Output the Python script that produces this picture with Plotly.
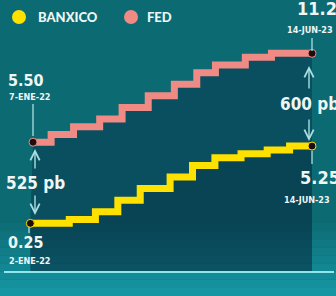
import plotly.graph_objects as go
import pandas as pd

# ---- data ----
pink_name = "FED"
pink_dates = ["2022-01-07", "2022-02-10", "2022-03-24", "2022-05-12", "2022-06-23", "2022-08-11",
              "2022-09-29", "2022-11-10", "2022-12-15", "2023-02-09", "2023-03-30", "2023-06-14"]
pink_rates = [5.50, 6.00, 6.50, 7.00, 7.75, 8.50, 9.25, 10.00, 10.50, 11.00, 11.25, 11.25]

yellow_name = "BANXICO"
yellow_dates = ["2022-01-02", "2022-03-16", "2022-05-04", "2022-06-15", "2022-07-27", "2022-09-21",
                "2022-11-02", "2022-12-14", "2023-02-01", "2023-03-22", "2023-05-03", "2023-06-14"]
yellow_rates = [0.25, 0.50, 1.00, 1.75, 2.50, 3.25, 4.00, 4.50, 4.75, 5.00, 5.25, 5.25]

start_labels = ["5.50", "7-ENE-22", "0.25", "2-ENE-22"]
end_labels = ["11.25", "14-JUN-23", "5.25", "14-JUN-23"]
gap_labels = ["525 pb", "600 pb"]

PINK = "#ef8a84"
YELLOW = "#ffe100"
WHITE = "#eef6f6"
CYAN = "#a9dfe2"
W, H = 336, 296
Y_MIN, Y_MAX = -4.45, 14.70
BASE = -2.9

def px(x):
    return x / W

def py(y):
    return 1 - y / H

fig = go.Figure()

# fills (shadows)
fig.add_trace(go.Scatter(x=pd.to_datetime(pink_dates), y=pink_rates, mode="lines",
                         line=dict(shape="hv", width=0), hoverinfo="skip", showlegend=False))
fig.add_trace(go.Scatter(x=pd.to_datetime(yellow_dates), y=yellow_rates, mode="lines",
                         line=dict(shape="hv", width=0), fill="tonexty",
                         fillcolor="rgba(6,36,62,0.38)", hoverinfo="skip", showlegend=False))
fig.add_trace(go.Scatter(x=pd.to_datetime(yellow_dates), y=[BASE] * len(yellow_dates), mode="lines",
                         line=dict(shape="hv", width=0), fill="tonexty",
                         fillcolor="rgba(4,30,52,0.5)", hoverinfo="skip", showlegend=False))

# step lines
fig.add_trace(go.Scatter(x=pd.to_datetime(pink_dates), y=pink_rates, mode="lines", name=pink_name,
                         line=dict(shape="hv", width=7, color=PINK), showlegend=False))
fig.add_trace(go.Scatter(x=pd.to_datetime(yellow_dates), y=yellow_rates, mode="lines", name=yellow_name,
                         line=dict(shape="hv", width=7, color=YELLOW), showlegend=False))

# end dots
for d, r, c in [(pink_dates, pink_rates, PINK), (yellow_dates, yellow_rates, YELLOW)]:
    fig.add_trace(go.Scatter(x=pd.to_datetime([d[0], d[-1]]), y=[r[0], r[-1]], mode="markers",
                             marker=dict(size=8, color="#1e0c10", line=dict(width=1, color=c)),
                             showlegend=False, hoverinfo="skip"))

shapes = []
# bottom gradient bands
c0 = (12, 106, 115)
c1 = (22, 150, 162)
n = 10
y_top, y_bot = 215, 296
for i in range(n):
    t = i / (n - 1)
    col = tuple(int(c0[k] + (c1[k] - c0[k]) * t) for k in range(3))
    ya = y_top + (y_bot - y_top) * i / n
    yb = y_top + (y_bot - y_top) * (i + 1) / n
    shapes.append(dict(type="rect", xref="paper", yref="paper", x0=0, x1=1, y0=py(yb), y1=py(ya),
                       fillcolor="rgb(%d,%d,%d)" % col, line=dict(width=0), layer="below"))
# bottom axis line
shapes.append(dict(type="line", xref="paper", yref="paper", x0=px(4), x1=px(334), y0=py(272), y1=py(272),
                   line=dict(color="#8fe6ec", width=2)))
# connectors
for x0, y0, x1, y1 in [(33, 104, 33, 136), (312, 38, 312, 51), (312, 151, 312, 164), (29, 227, 29, 233)]:
    shapes.append(dict(type="line", xref="paper", yref="paper", x0=px(x0), x1=px(x1), y0=py(y0), y1=py(y1),
                       line=dict(color=CYAN, width=1.3)))
# legend circles
for cx, c in [(19, YELLOW), (131, PINK)]:
    shapes.append(dict(type="circle", xref="paper", yref="paper", x0=px(cx - 7), x1=px(cx + 7),
                       y0=py(24), y1=py(10), fillcolor=c, line=dict(width=0)))

NUMF = "DejaVu Sans Condensed, Liberation Sans Narrow, Roboto, sans-serif"
LEGF = "Lato Black, Lato, Liberation Sans, sans-serif"
ann = []

def txt(x, y, s, size, xanchor="left", font=NUMF, color=WHITE):
    ann.append(dict(xref="paper", yref="paper", x=px(x), y=py(y), text="<b>%s</b>" % s,
                    showarrow=False, xanchor=xanchor, yanchor="middle",
                    font=dict(family=font, size=size, color=color)))

# legend texts
txt(36, 17, yellow_name, 13, font=LEGF)
txt(145, 17, pink_name, 13, font=LEGF)
# start labels
txt(6, 80, start_labels[0], 16)
txt(7, 97, start_labels[1], 9)
txt(6, 242, start_labels[2], 16)
txt(7, 261, start_labels[3], 9)
# end labels
txt(295, 9, end_labels[0], 18)
txt(285, 30, end_labels[1], 9)
txt(298, 177, end_labels[2], 18)
txt(282, 200, end_labels[3], 9)
# gap labels
txt(4, 183, gap_labels[0], 17)
txt(278, 104, gap_labels[1], 17)

# arrows
for x, ytip, ytail in [(35, 149, 170), (35, 215, 194), (309, 66, 90), (309, 141, 118)]:
    ann.append(dict(xref="paper", yref="paper", x=px(x), y=py(ytip), ax=0, ay=ytail - ytip,
                    axref="pixel", ayref="pixel", showarrow=True, arrowhead=5, arrowsize=1.3,
                    arrowwidth=1.4, arrowcolor=CYAN, text=""))

x_start = pd.Timestamp("2022-01-07") - pd.Timedelta(days=33 / 0.5334)
x_end = pd.Timestamp("2023-06-14") + pd.Timedelta(days=24 / 0.5334)

fig.update_layout(
    width=W, height=H, margin=dict(l=0, r=0, t=0, b=0),
    paper_bgcolor="#0c6a73", plot_bgcolor="rgba(0,0,0,0)",
    xaxis=dict(visible=False, range=[x_start, x_end], fixedrange=True),
    yaxis=dict(visible=False, range=[Y_MIN, Y_MAX], fixedrange=True),
    shapes=shapes, annotations=ann, showlegend=False,
)

fig.write_html("out.html", config=dict(displayModeBar=False),
               post_script="document.body.style.margin='0';document.body.style.overflow='hidden';")
